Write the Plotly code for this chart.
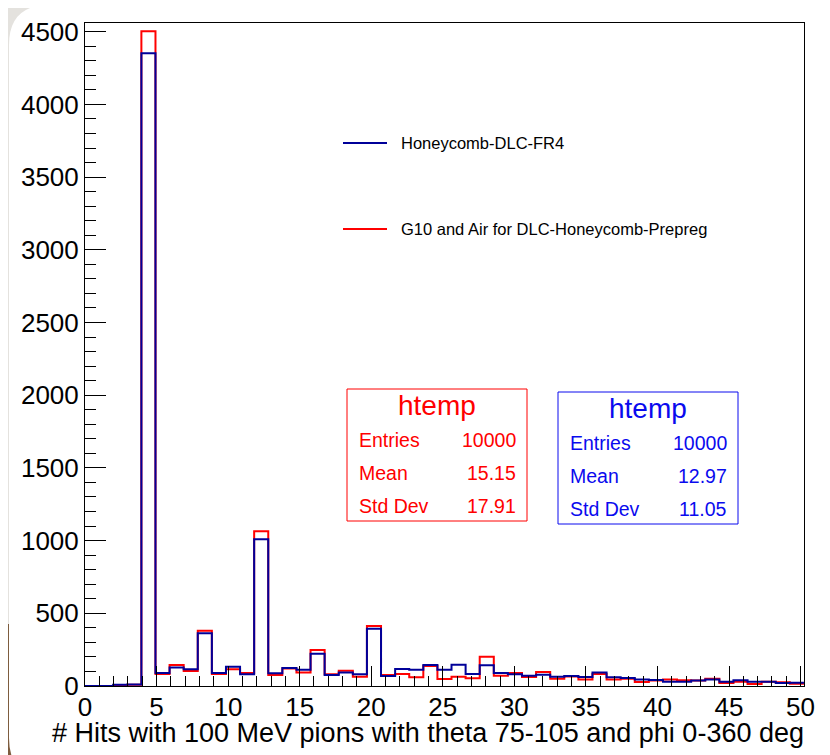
import plotly.graph_objects as go

# ---------------- data ----------------
bin_width = 0.985
n_bins = 51
x_max = 50.24
y_max = 4560

blue_counts = [0, 0, 8, 10, 4352, 90, 128, 115, 362, 89,
               133, 81, 1010, 87, 124, 112, 222, 76, 92, 80,
               394, 69, 117, 112, 144, 112, 147, 82, 142, 89,
               80, 71, 78, 64, 68, 62, 92, 60, 55, 44,
               41, 30, 30, 37, 44, 30, 39, 30, 30, 21, 23]
red_counts = [0, 0, 3, 8, 4504, 82, 144, 103, 380, 82,
              115, 90, 1065, 76, 121, 92, 247, 80, 105, 64,
              412, 76, 82, 60, 137, 48, 64, 53, 202, 71,
              89, 62, 96, 50, 66, 44, 82, 44, 50, 27,
              37, 44, 39, 37, 50, 21, 30, 14, 30, 25, 16]

blue_name = "Honeycomb-DLC-FR4"
red_name = "G10 and Air for DLC-Honeycomb-Prepreg"
x_title = "# Hits with 100 MeV pions with theta 75-105 and phi 0-360 deg"

red_stats = [("Entries", "10000"), ("Mean", "15.15"), ("Std Dev", "17.91")]
blue_stats = [("Entries", "10000"), ("Mean", "12.97"), ("Std Dev", "11.05")]

BLUE_LINE = "#000099"
BLUE_BOX = "#0a0aee"
RED = "#ff0000"
FONT = "Liberation Sans, Arial, sans-serif"

# ---------------- layout geometry (screen pixels; page body has 8px margin) ----------------
OFF = 8
W, H = 830 - OFF, 755 - OFF
L, R, T, B = 85, 804, 23, 686      # plot frame in screen pixels
PW, PH = R - L, B - T


def px(x):
    return (x - L) / PW


def py(y):
    return (B - y) / PH


edges = [i * bin_width for i in range(n_bins + 1)]


def steps(counts):
    xs = list(edges)
    ys = list(counts) + [counts[-1]]
    return xs, ys


fig = go.Figure()
for counts, color, name in [(red_counts, RED, red_name), (blue_counts, BLUE_LINE, blue_name)]:
    xs, ys = steps(counts)
    fig.add_trace(go.Scatter(x=xs, y=ys, mode="lines", line=dict(color=color, width=2, shape="hv"),
                             name=name, showlegend=False, hoverinfo="skip"))

shapes = []
annotations = []

# background window: wood corner, white rounded rect
shapes.append(dict(type="rect", xref="paper", yref="paper", layer="below",
                   x0=px(-5), x1=px(45), y0=py(624), y1=py(770),
                   fillcolor="#7d5c3e", line=dict(width=0)))


def rounded_path(x0, y0, x1, y1, r):
    pts = [
        ("M", px(x0 + r), py(y0)),
        ("L", px(x1 - r), py(y0)),
        ("Q", px(x1), py(y0), px(x1), py(y0 + r)),
        ("L", px(x1), py(y1 - r)),
        ("Q", px(x1), py(y1), px(x1 - r), py(y1)),
        ("L", px(x0 + r), py(y1)),
        ("Q", px(x0), py(y1), px(x0), py(y1 - r)),
        ("L", px(x0), py(y0 + r)),
        ("Q", px(x0), py(y0), px(x0 + r), py(y0)),
    ]
    s = ""
    for p in pts:
        if p[0] == "Q":
            s += f"Q{p[1]:.5f},{p[2]:.5f} {p[3]:.5f},{p[4]:.5f} "
        else:
            s += f"{p[0]}{p[1]:.5f},{p[2]:.5f} "
    return s + "Z"


shapes.append(dict(type="path", xref="paper", yref="paper", layer="below",
                   path=rounded_path(9, 5, 845, 778, 40),
                   fillcolor="white", line=dict(width=0)))

# legend (manual, ROOT TLegend style without border)
for color, name, yy in [(BLUE_LINE, blue_name, 143), (RED, red_name, 229)]:
    shapes.append(dict(type="line", xref="paper", yref="paper",
                       x0=px(343), x1=px(387), y0=py(yy), y1=py(yy),
                       line=dict(color=color, width=2)))
    annotations.append(dict(xref="paper", yref="paper", x=px(399), y=py(yy),
                            xanchor="left", yanchor="middle", showarrow=False,
                            text=name, font=dict(family=FONT, size=16.5, color="black")))


# stat boxes
def stat_box(x0, y0, x1, y1, color, stats):
    shapes.append(dict(type="rect", xref="paper", yref="paper",
                       x0=px(x0), x1=px(x1), y0=py(y0), y1=py(y1),
                       fillcolor="white", line=dict(color=color, width=1)))
    annotations.append(dict(xref="paper", yref="paper", x=px((x0 + x1) / 2), y=py(y0 + 17),
                            xanchor="center", yanchor="middle", showarrow=False,
                            text="htemp", font=dict(family=FONT, size=28, color=color)))
    for i, (lab, val) in enumerate(stats):
        yy = y0 + 51 + 33 * i
        annotations.append(dict(xref="paper", yref="paper", x=px(x0 + 10), y=py(yy),
                                xanchor="left", yanchor="middle", showarrow=False,
                                text=lab, font=dict(family=FONT, size=19.5, color=color)))
        annotations.append(dict(xref="paper", yref="paper", x=px(x1 - 9), y=py(yy),
                                xanchor="right", yanchor="middle", showarrow=False,
                                text=val, font=dict(family=FONT, size=19.5, color=color)))


stat_box(347, 389, 527, 521, RED, red_stats)
stat_box(558, 392, 738, 524, BLUE_BOX, blue_stats)

# x-axis title (ROOT right-aligned)
annotations.append(dict(xref="paper", yref="paper", x=px(806), y=py(733),
                        xanchor="right", yanchor="middle", showarrow=False,
                        text=x_title, font=dict(family=FONT, size=27, color="black")))

fig.update_layout(
    width=W, height=H,
    margin=dict(l=L - OFF, r=W - (R - OFF), t=T - OFF, b=H - (B - OFF), pad=0, autoexpand=False),
    paper_bgcolor="#e4e2de",
    plot_bgcolor="white",
    shapes=shapes,
    annotations=annotations,
    showlegend=False,
)
fig.update_xaxes(range=[0, x_max], tickmode="linear", tick0=0, dtick=5,
                 ticks="inside", ticklen=20, tickwidth=1, tickcolor="black",
                 minor=dict(dtick=1, ticks="inside", ticklen=10, tickcolor="black", tickwidth=1),
                 showline=True, linecolor="black", linewidth=1, mirror=True,
                 showgrid=False, zeroline=False, ticklabelstandoff=-2,
                 tickfont=dict(family=FONT, size=26, color="black"))
fig.update_yaxes(range=[0, y_max], tickmode="linear", tick0=0, dtick=500,
                 ticks="inside", ticklen=21, tickwidth=1, tickcolor="black",
                 minor=dict(dtick=100, ticks="inside", ticklen=11, tickcolor="black", tickwidth=1),
                 showline=True, linecolor="black", linewidth=1, mirror=True,
                 showgrid=False, zeroline=False,
                 tickfont=dict(family=FONT, size=26, color="black"))

fig.write_html("out.html")
